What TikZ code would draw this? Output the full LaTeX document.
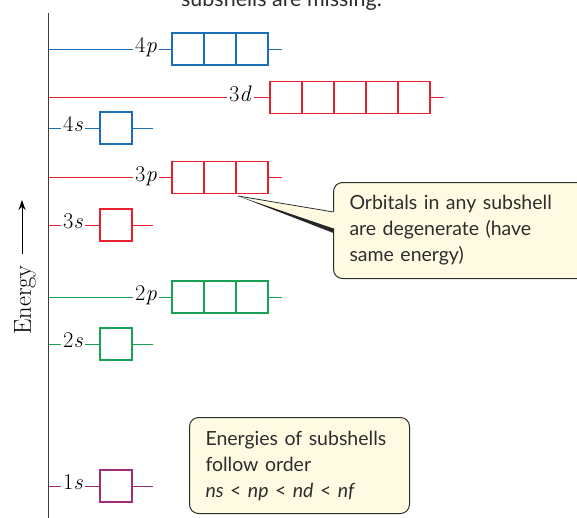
\documentclass[tikz,border=0pt]{standalone}
\usepackage{fontspec}
\newfontfamily\callfont{Lato}
\usetikzlibrary{arrows.meta}
\definecolor{oblue}{RGB}{30,110,185}
\definecolor{ored}{RGB}{232,32,48}
\definecolor{ogreen}{RGB}{24,160,84}
\definecolor{opurple}{RGB}{160,44,122}
\definecolor{cream}{RGB}{255,251,226}
\definecolor{axgray}{RGB}{60,60,60}
\definecolor{txtgray}{RGB}{45,45,45}
\tikzset{
  orb/.style={draw, minimum width=32pt, minimum height=32pt, inner sep=0pt, outer sep=0pt, line width=1.3pt},
  lvl/.style={line width=1pt},
  lab/.style={font=\fontsize{22.5}{22.5}\selectfont, text=black, inner sep=2pt, text height=0.68em, text depth=0pt},
  callbox/.style={draw=txtgray, line width=1pt, fill=cream, rounded corners=9pt, align=left,
    font=\callfont\fontsize{19.5}{26}\selectfont, text=txtgray, inner xsep=16pt, inner ysep=0pt}
}
\begin{document}
\begin{tikzpicture}[x=1pt,y=-1pt]
\useasboundingbox (0,0) rectangle (577,517);
\clip (0,0) rectangle (577,517);
% cut-off heading
\node[font=\callfont\fontsize{21.5}{21.5}\selectfont, text=txtgray, anchor=base, inner sep=0pt] (head) at (281.5,6) {subshells are missing.};
% axis
\coordinate (axT) at (48.5,13);
\coordinate (axB) at (48.5,520);
\draw[axgray, line width=1.8pt] (axT) -- (axB);
% energy label and arrow
\node[rotate=90, font=\fontsize{24.5}{24.5}\selectfont, text=black, inner sep=0pt] (energy) at (25,300) {Energy};
\coordinate (arrS) at (22,254);
\coordinate (arrE) at (22,200);
\draw[line width=1pt, -{Stealth[length=10pt,width=7pt]}] (arrS) -- (arrE);
% p rows
\foreach \n/\yy/\cc in {4/49/oblue,3/177.7/ored,2/297/ogreen}{
  \coordinate (ax\n p) at (48.5,\yy);
  \node[lab] (l\n p) at (146,\yy) {\n\textit{p}};
  \node[orb,draw=\cc,anchor=west] (b\n p1) at (172,\yy) {};
  \node[orb,draw=\cc,anchor=west] (b\n p2) at (b\n p1.east) {};
  \node[orb,draw=\cc,anchor=west] (b\n p3) at (b\n p2.east) {};
  \coordinate (t\n p) at (282,\yy);
  \draw[lvl,\cc] (ax\n p) -- (l\n p) (l\n p) -- (b\n p1) (b\n p3) -- (t\n p);
}
% s rows
\foreach \n/\yy/\cc in {4/128/oblue,3/225/ored,2/344/ogreen,1/486/opurple}{
  \coordinate (ax\n s) at (48.5,\yy);
  \node[lab] (l\n s) at (73,\yy) {\n\textit{s}};
  \node[orb,draw=\cc,anchor=west] (b\n s) at (100,\yy) {};
  \coordinate (t\n s) at (153,\yy);
  \draw[lvl,\cc] (ax\n s) -- (l\n s) (l\n s) -- (b\n s) (b\n s) -- (t\n s);
}
% 3d row
\coordinate (ax3d) at (48.5,97.7);
\node[lab] (l3d) at (240.5,97.7) {3\textit{d}};
\node[orb,draw=ored,anchor=west] (b3d1) at (270,97.7) {};
\node[orb,draw=ored,anchor=west] (b3d2) at (b3d1.east) {};
\node[orb,draw=ored,anchor=west] (b3d3) at (b3d2.east) {};
\node[orb,draw=ored,anchor=west] (b3d4) at (b3d3.east) {};
\node[orb,draw=ored,anchor=west] (b3d5) at (b3d4.east) {};
\coordinate (t3d) at (444,97.7);
\draw[lvl,ored] (ax3d) -- (l3d) (l3d) -- (b3d1) (b3d5) -- (t3d);
% callout 1
\node[callbox, anchor=north west, minimum width=260pt, minimum height=96pt, text width=228pt] (c1) at (333,182)
  {Orbitals in any subshell\\are degenerate (have\\same energy)};
\coordinate (tip) at (238,196);
\coordinate (pu) at (333.5,212);
\coordinate (pl) at (333.5,229);
\fill[cream] (tip) -- ([xshift=2pt]pu) -- ([xshift=2pt]pl) -- cycle;
\draw[txtgray, line width=0.8pt] (tip) -- (pu);
\fill[black!85] (tip) -- ([yshift=-4pt]pl) -- ([yshift=0.5pt]pl) -- cycle;
% callout 2
\node[callbox, anchor=north west, minimum width=220pt, minimum height=96pt, text width=188pt] (c2) at (189,417)
  {Energies of subshells\\follow order\\\textit{ns} < \textit{np} < \textit{nd} < \textit{nf}};
\end{tikzpicture}
\end{document}
